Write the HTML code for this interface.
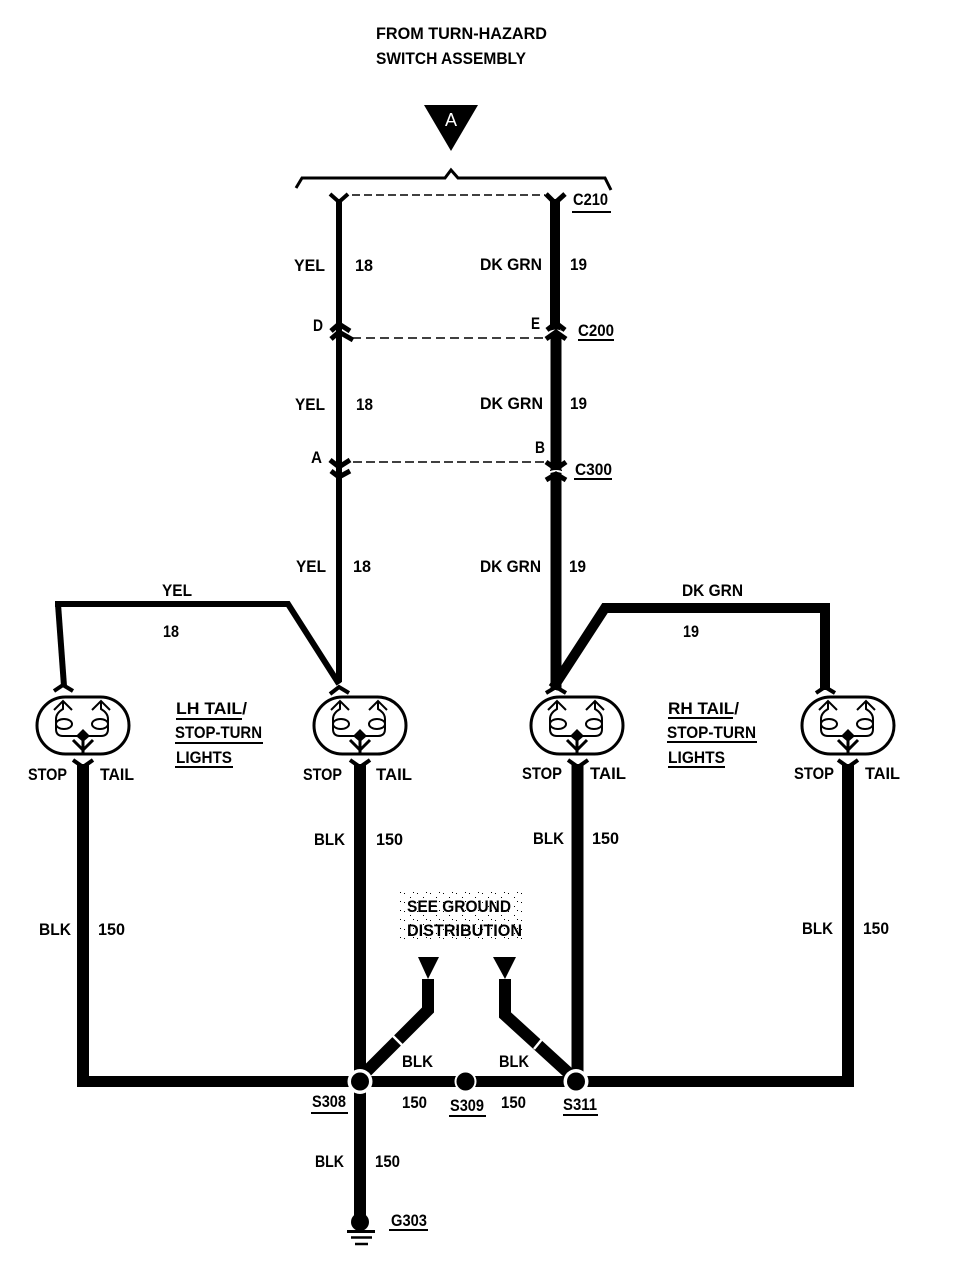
<!DOCTYPE html>
<html>
<head>
<meta charset="utf-8">
<style>
html,body{margin:0;padding:0;background:#fff;}
svg{display:block;}
text{font-family:"Liberation Sans",sans-serif;font-weight:bold;font-size:17px;fill:#000;}
</style>
</head>
<body>
<svg xmlns="http://www.w3.org/2000/svg" width="978" height="1280" viewBox="0 0 978 1280">
<defs>
<pattern id="stip" width="13" height="9" patternUnits="userSpaceOnUse">
  <rect x="1" y="2" width="1" height="1" fill="#000"/>
  <rect x="7" y="6" width="1" height="1" fill="#000"/>
  <rect x="10" y="1" width="1" height="1" fill="#000"/>
</pattern>
<g id="lamp" fill="none" stroke="#000">
  <rect x="-46" y="-30" width="92" height="57" rx="28.5" ry="28.5" stroke-width="3"/>
  <ellipse cx="-19" cy="-3" rx="8" ry="5" stroke-width="2"/>
  <ellipse cx="17" cy="-3" rx="8" ry="5" stroke-width="2"/>
  <path d="M-20,-26 L-20,-18 Q-27,-14 -27,-8 L-27,2 Q-27,9 -20,9 L18,9 Q25,9 25,2 L25,-8 Q25,-14 18,-18 L18,-26" stroke-width="2"/>
  <path d="M-29,-17 L-20,-26 L-11,-17 M9,-17 L18,-26 L27,-17" stroke-width="2"/>
  <path d="M-10,13 L0,23 L10,13 M0,10 L0,27" stroke-width="3"/>
  <polygon points="0,2 7,9 0,15 -7,9" fill="#000" stroke="none"/>
</g>
</defs>

<!-- Header -->
<text x="376" y="39" textLength="171" lengthAdjust="spacingAndGlyphs">FROM TURN-HAZARD</text>
<text x="376" y="64" textLength="150" lengthAdjust="spacingAndGlyphs">SWITCH ASSEMBLY</text>
<polygon points="424,105 478,105 451,151" fill="#000"/>
<text x="451" y="126" text-anchor="middle" style="fill:#fff;font-weight:normal;font-size:18px">A</text>
<path d="M296,188 L302,178 L445,178 L451,170 L458,178 L605,178 L611,190" fill="none" stroke="#000" stroke-width="3"/>

<!-- Main vertical wires -->
<line x1="339" y1="199" x2="339" y2="682" stroke="#000" stroke-width="6"/>
<line x1="555" y1="199" x2="555" y2="330" stroke="#000" stroke-width="10"/>
<line x1="556" y1="330" x2="556" y2="690" stroke="#000" stroke-width="11"/>

<!-- Connector C210 -->
<path d="M330,194 L339,202 L348,194" fill="none" stroke="#000" stroke-width="4"/>
<path d="M546,194 L555,203 L565,194" fill="none" stroke="#000" stroke-width="5"/>
<line x1="352" y1="195" x2="545" y2="195" stroke="#000" stroke-width="1.5" stroke-dasharray="8,4"/>

<!-- Connector C200 -->
<path d="M331,331 L339,324 L350,331" fill="none" stroke="#000" stroke-width="5"/>
<path d="M331,339 L339,332 L353,340" fill="none" stroke="#000" stroke-width="5"/>
<path d="M547,330 L556,323 L565,330" fill="none" stroke="#000" stroke-width="5"/>
<path d="M547,334 Q556,327 565,334" fill="none" stroke="#fff" stroke-width="2"/>
<path d="M546,339 L556,332 L566,339" fill="none" stroke="#000" stroke-width="5"/>
<line x1="352" y1="338" x2="545" y2="338" stroke="#000" stroke-width="1.5" stroke-dasharray="9,5"/>

<!-- Connector C300 -->
<path d="M330,460 L339,467 L350,460" fill="none" stroke="#000" stroke-width="5"/>
<path d="M331,471 L339,477 L350,471" fill="none" stroke="#000" stroke-width="5"/>
<path d="M546,462 L556,469 L566,462" fill="none" stroke="#000" stroke-width="5"/>
<rect x="550" y="470" width="12" height="3" fill="#000"/>
<path d="M548,473 Q556,469 564,473" fill="none" stroke="#fff" stroke-width="2"/>
<path d="M546,480 L556,474 L566,480" fill="none" stroke="#000" stroke-width="5"/>
<line x1="353" y1="462" x2="545" y2="462" stroke="#000" stroke-width="1.5" stroke-dasharray="9,4"/>

<!-- YEL branch -->
<path d="M339,684 L288,604 L55,604" fill="none" stroke="#000" stroke-width="6"/>
<path d="M58,604 L64,686" fill="none" stroke="#000" stroke-width="6"/>
<!-- DK GRN branch -->
<path d="M553,688 L605,608 L825,608 L825,690" fill="none" stroke="#000" stroke-width="10"/>

<!-- Lamps -->
<use href="#lamp" x="83" y="727"/>
<use href="#lamp" x="360" y="727"/>
<use href="#lamp" x="577" y="727"/>
<use href="#lamp" x="848" y="727"/>
<path d="M54,691 L63,685 L73,691" fill="none" stroke="#000" stroke-width="4"/>
<path d="M330,694 L339,687 L349,693" fill="none" stroke="#000" stroke-width="4"/>
<path d="M546,693 L556,687 L566,693" fill="none" stroke="#000" stroke-width="4"/>
<path d="M816,693 L825,687 L835,693" fill="none" stroke="#000" stroke-width="4"/>

<!-- Lower wires -->
<line x1="83" y1="764" x2="83" y2="1087" stroke="#000" stroke-width="12"/>
<line x1="360" y1="764" x2="360" y2="1222" stroke="#000" stroke-width="12"/>
<line x1="577.5" y1="764" x2="577.5" y2="1081" stroke="#000" stroke-width="12"/>
<line x1="848" y1="764" x2="848" y2="1087" stroke="#000" stroke-width="12"/>
<path d="M73,760 L83,767 L93,760" fill="none" stroke="#000" stroke-width="4"/>
<path d="M350,760 L360,767 L370,760" fill="none" stroke="#000" stroke-width="4"/>
<path d="M568,760 L578,767 L588,760" fill="none" stroke="#000" stroke-width="4"/>
<path d="M838,760 L848,767 L858,760" fill="none" stroke="#000" stroke-width="4"/>
<line x1="77" y1="1081.5" x2="854" y2="1081.5" stroke="#000" stroke-width="11"/>

<!-- Ground branches -->
<path d="M428,979 L428,1010 L362,1076" fill="none" stroke="#000" stroke-width="12"/>
<path d="M505,979 L505,1015 L574,1078" fill="none" stroke="#000" stroke-width="12"/>
<line x1="392" y1="1035" x2="402" y2="1045" stroke="#fff" stroke-width="2.5"/>
<line x1="543" y1="1038" x2="534" y2="1049" stroke="#fff" stroke-width="2.5"/>
<polygon points="418,957 439,957 428,979" fill="#000"/>
<polygon points="493,957 516,957 505,979" fill="#000"/>

<!-- Splices -->
<circle cx="360" cy="1081.5" r="12.5" fill="#fff"/>
<circle cx="360" cy="1081.5" r="9" fill="#000"/>
<circle cx="465.5" cy="1081.5" r="11" fill="#fff"/>
<circle cx="465.5" cy="1081.5" r="9" fill="#000"/>
<circle cx="576" cy="1081.5" r="12.5" fill="#fff"/>
<circle cx="576" cy="1081.5" r="9" fill="#000"/>

<!-- Ground -->
<circle cx="360" cy="1222" r="9" fill="#000"/>
<line x1="347" y1="1231.5" x2="375" y2="1231.5" stroke="#000" stroke-width="3"/>
<line x1="351" y1="1237.5" x2="372" y2="1237.5" stroke="#000" stroke-width="2.5"/>
<line x1="355" y1="1244" x2="368" y2="1244" stroke="#000" stroke-width="2.5"/>

<!-- Wire labels -->
<text x="294" y="271" textLength="31" lengthAdjust="spacingAndGlyphs">YEL</text>
<text x="355" y="271" textLength="18" lengthAdjust="spacingAndGlyphs">18</text>
<text x="480" y="270" textLength="62" lengthAdjust="spacingAndGlyphs">DK GRN</text>
<text x="570" y="270" textLength="17" lengthAdjust="spacingAndGlyphs">19</text>
<text x="295" y="410" textLength="30" lengthAdjust="spacingAndGlyphs">YEL</text>
<text x="356" y="410" textLength="17" lengthAdjust="spacingAndGlyphs">18</text>
<text x="480" y="409" textLength="63" lengthAdjust="spacingAndGlyphs">DK GRN</text>
<text x="570" y="409" textLength="17" lengthAdjust="spacingAndGlyphs">19</text>
<text x="296" y="572" textLength="30" lengthAdjust="spacingAndGlyphs">YEL</text>
<text x="353" y="572" textLength="18" lengthAdjust="spacingAndGlyphs">18</text>
<text x="480" y="572" textLength="61" lengthAdjust="spacingAndGlyphs">DK GRN</text>
<text x="569" y="572" textLength="17" lengthAdjust="spacingAndGlyphs">19</text>
<text x="162" y="596" textLength="30" lengthAdjust="spacingAndGlyphs">YEL</text>
<text x="163" y="637" textLength="16" lengthAdjust="spacingAndGlyphs">18</text>
<text x="682" y="596" textLength="61" lengthAdjust="spacingAndGlyphs">DK GRN</text>
<text x="683" y="637" textLength="16" lengthAdjust="spacingAndGlyphs">19</text>

<!-- Connector labels -->
<text x="573" y="205" textLength="35" lengthAdjust="spacingAndGlyphs">C210</text>
<line x1="572" y1="212" x2="611" y2="212" stroke="#000" stroke-width="2"/>
<text x="313" y="331" textLength="10" lengthAdjust="spacingAndGlyphs">D</text>
<text x="531" y="329" textLength="9" lengthAdjust="spacingAndGlyphs">E</text>
<text x="578" y="336" textLength="36" lengthAdjust="spacingAndGlyphs">C200</text>
<line x1="578" y1="340" x2="614" y2="340" stroke="#000" stroke-width="2"/>
<text x="311" y="463" textLength="11" lengthAdjust="spacingAndGlyphs">A</text>
<text x="535" y="453" textLength="10" lengthAdjust="spacingAndGlyphs">B</text>
<text x="575" y="475" textLength="37" lengthAdjust="spacingAndGlyphs">C300</text>
<line x1="574" y1="479" x2="612" y2="479" stroke="#000" stroke-width="2"/>

<!-- LH / RH -->
<text x="176" y="714" textLength="71" lengthAdjust="spacingAndGlyphs">LH TAIL/</text>
<line x1="176" y1="719" x2="242" y2="719" stroke="#000" stroke-width="2"/>
<text x="175" y="738" textLength="87" lengthAdjust="spacingAndGlyphs">STOP-TURN</text>
<line x1="175" y1="743" x2="263" y2="743" stroke="#000" stroke-width="2"/>
<text x="176" y="763" textLength="56" lengthAdjust="spacingAndGlyphs">LIGHTS</text>
<line x1="175" y1="767" x2="233" y2="767" stroke="#000" stroke-width="2"/>
<text x="668" y="714" textLength="71" lengthAdjust="spacingAndGlyphs">RH TAIL/</text>
<line x1="668" y1="718" x2="733" y2="718" stroke="#000" stroke-width="2"/>
<text x="667" y="738" textLength="89" lengthAdjust="spacingAndGlyphs">STOP-TURN</text>
<line x1="667" y1="742" x2="757" y2="742" stroke="#000" stroke-width="2"/>
<text x="668" y="763" textLength="57" lengthAdjust="spacingAndGlyphs">LIGHTS</text>
<line x1="668" y1="767" x2="725" y2="767" stroke="#000" stroke-width="2"/>

<!-- STOP / TAIL -->
<text x="28" y="780" textLength="39" lengthAdjust="spacingAndGlyphs">STOP</text>
<text x="100" y="780" textLength="34" lengthAdjust="spacingAndGlyphs">TAIL</text>
<text x="303" y="780" textLength="39" lengthAdjust="spacingAndGlyphs">STOP</text>
<text x="376" y="780" textLength="36" lengthAdjust="spacingAndGlyphs">TAIL</text>
<text x="522" y="779" textLength="40" lengthAdjust="spacingAndGlyphs">STOP</text>
<text x="590" y="779" textLength="36" lengthAdjust="spacingAndGlyphs">TAIL</text>
<text x="794" y="779" textLength="40" lengthAdjust="spacingAndGlyphs">STOP</text>
<text x="865" y="779" textLength="35" lengthAdjust="spacingAndGlyphs">TAIL</text>

<!-- BLK labels -->
<text x="314" y="845" textLength="31" lengthAdjust="spacingAndGlyphs">BLK</text>
<text x="376" y="845" textLength="27" lengthAdjust="spacingAndGlyphs">150</text>
<text x="533" y="844" textLength="31" lengthAdjust="spacingAndGlyphs">BLK</text>
<text x="592" y="844" textLength="27" lengthAdjust="spacingAndGlyphs">150</text>
<text x="39" y="935" textLength="32" lengthAdjust="spacingAndGlyphs">BLK</text>
<text x="98" y="935" textLength="27" lengthAdjust="spacingAndGlyphs">150</text>
<text x="802" y="934" textLength="31" lengthAdjust="spacingAndGlyphs">BLK</text>
<text x="863" y="934" textLength="26" lengthAdjust="spacingAndGlyphs">150</text>
<rect x="400" y="890" width="126" height="52" fill="url(#stip)"/>
<text x="407" y="912" textLength="104" lengthAdjust="spacingAndGlyphs">SEE GROUND</text>
<text x="407" y="936" textLength="115" lengthAdjust="spacingAndGlyphs">DISTRIBUTION</text>
<text x="402" y="1067" textLength="31" lengthAdjust="spacingAndGlyphs">BLK</text>
<text x="499" y="1067" textLength="30" lengthAdjust="spacingAndGlyphs">BLK</text>
<text x="402" y="1108" textLength="25" lengthAdjust="spacingAndGlyphs">150</text>
<text x="501" y="1108" textLength="25" lengthAdjust="spacingAndGlyphs">150</text>
<text x="312" y="1107" textLength="34" lengthAdjust="spacingAndGlyphs">S308</text>
<line x1="311" y1="1113" x2="348" y2="1113" stroke="#000" stroke-width="2"/>
<text x="450" y="1111" textLength="34" lengthAdjust="spacingAndGlyphs">S309</text>
<line x1="449" y1="1116" x2="486" y2="1116" stroke="#000" stroke-width="2"/>
<text x="563" y="1110" textLength="34" lengthAdjust="spacingAndGlyphs">S311</text>
<line x1="563" y1="1115" x2="598" y2="1115" stroke="#000" stroke-width="2"/>
<text x="315" y="1167" textLength="29" lengthAdjust="spacingAndGlyphs">BLK</text>
<text x="375" y="1167" textLength="25" lengthAdjust="spacingAndGlyphs">150</text>
<text x="391" y="1226" textLength="36" lengthAdjust="spacingAndGlyphs">G303</text>
<line x1="389" y1="1230" x2="428" y2="1230" stroke="#000" stroke-width="2"/>
</svg>
</body>
</html>
